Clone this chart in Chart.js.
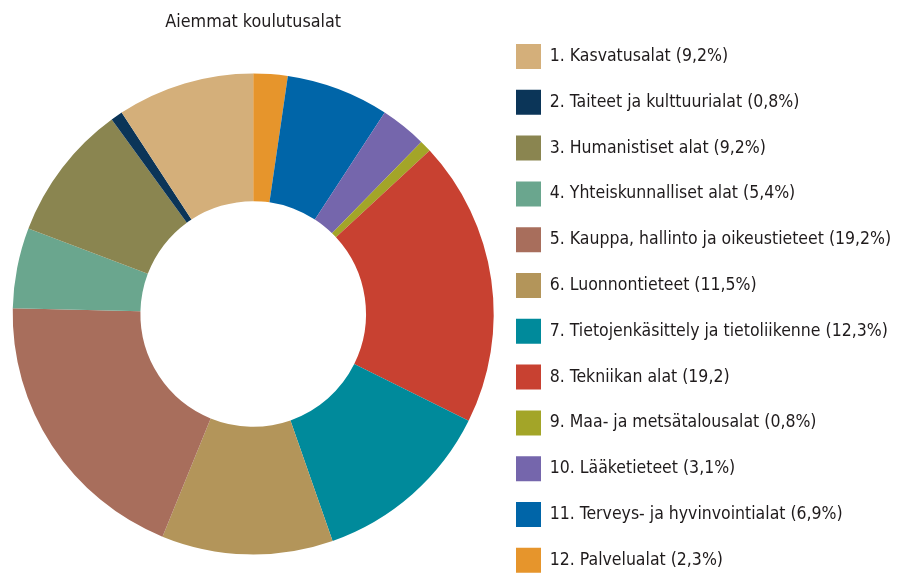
<!DOCTYPE html>
<html>
<head>
<meta charset="utf-8">
<script src="https://cdn.jsdelivr.net/npm/chart.js@4/dist/chart.umd.min.js"></script>
<style>
  html, body { margin: 0; padding: 0; background: #fff; }
  #wrap { width: 897px; height: 576px; position: relative; }
</style>
</head>
<body>
<div id="wrap"><canvas id="chart"></canvas></div>
<script>
const title = 'Aiemmat koulutusalat';
const labels = [
  '1. Kasvatusalat (9,2%)',
  '2. Taiteet ja kulttuurialat (0,8%)',
  '3. Humanistiset alat (9,2%)',
  '4. Yhteiskunnalliset alat (5,4%)',
  '5. Kauppa, hallinto ja oikeustieteet (19,2%)',
  '6. Luonnontieteet (11,5%)',
  '7. Tietojenkäsittely ja tietoliikenne (12,3%)',
  '8. Tekniikan alat (19,2)',
  '9. Maa- ja metsätalousalat (0,8%)',
  '10. Lääketieteet (3,1%)',
  '11. Terveys- ja hyvinvointialat (6,9%)',
  '12. Palvelualat (2,3%)'
];
const values = [9.2, 0.8, 9.2, 5.4, 19.2, 11.5, 12.3, 19.2, 0.8, 3.1, 6.9, 2.3];
const colors = ['#D4AF7A', '#0B3558', '#8A8550', '#6AA68E', '#A86E5C', '#B3955A',
                '#008A9B', '#C84131', '#A3A528', '#7566AC', '#0065A8', '#E6952C'];

// slices run clockwise from the top starting with the last category
const order = labels.map((_, i) => labels.length - 1 - i);

const fontFamily = '"DejaVu Sans Condensed", "Liberation Sans Narrow", sans-serif';
const legendSize = 17.5;
const legendPad = 20.8;
const boxSize = 25;

// legend boxes start at x=516; legend width = pad + box + fs/2 + text + 10
const m = document.createElement('canvas').getContext('2d');
m.font = legendSize + 'px ' + fontFamily;
const maxText = Math.max(...labels.map(t => m.measureText(t).width));
const padRight = 897 - (516 + boxSize + legendSize / 2 + maxText + 10);

new Chart(document.getElementById('chart'), {
  type: 'doughnut',
  data: {
    labels: order.map(i => labels[i]),
    datasets: [{
      data: order.map(i => values[i]),
      backgroundColor: order.map(i => colors[i]),
      borderWidth: 0,
      radius: 240.5,
      cutout: 113.5
    }]
  },
  options: {
    responsive: true,
    maintainAspectRatio: false,
    animation: false,
    layout: { padding: { top: 0, bottom: -40.8, left: 11.2, right: padRight } },
    plugins: {
      title: {
        display: true,
        text: title,
        fullSize: false,
        color: '#1F1B1C',
        font: { family: fontFamily, size: 17.8, weight: 'normal', lineHeight: 1.2 },
        padding: { top: 12.2, bottom: 18.3 }
      },
      legend: {
        position: 'right',
        align: 'center',
        reverse: true,
        labels: {
          boxWidth: boxSize,
          boxHeight: boxSize,
          padding: legendPad,
          color: '#1F1B1C',
          font: { family: fontFamily, size: legendSize }
        }
      },
      tooltip: { enabled: false }
    }
  }
});
</script>
</body>
</html>
